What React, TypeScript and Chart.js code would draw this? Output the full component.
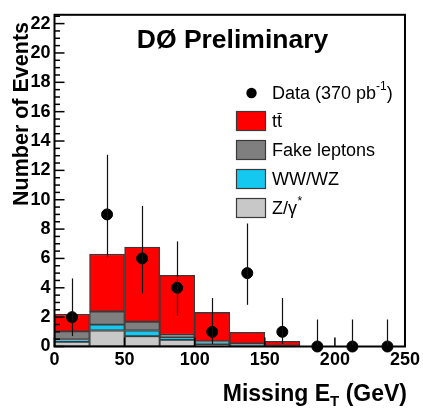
import React, { useEffect, useRef } from "react";
import { Chart, registerables } from "chart.js";

Chart.register(...registerables);

// ---- data ----
const binCenters = [12.5, 37.5, 62.5, 87.5, 112.5, 137.5, 162.5, 187.5, 212.5, 237.5];
const zGamma = [0.32, 1.09, 0.7, 0.45, 0.17, 0.05, 0.02, 0, 0, 0];
const wwwz = [0.16, 0.4, 0.39, 0.2, 0.15, 0.03, 0.01, 0, 0, 0];
const fakeLeptons = [0.55, 0.89, 0.6, 0.15, 0.04, 0.12, 0.03, 0, 0, 0];
const ttbar = [1.17, 3.91, 5.09, 4.05, 1.96, 0.77, 0.29, 0, 0, 0];
const dataCounts = [2, 9, 6, 4, 1, 5, 1, 0, 0, 0];
const errLow = [0.71, 6.06, 3.62, 2.09, 0.17, 2.84, 0.17, 0, 0, 0];
const errHigh = [4.64, 13.06, 9.58, 7.16, 3.3, 8.38, 3.3, 1.84, 1.84, 1.84];
const yTicks = [0, 2, 4, 6, 8, 10, 12, 14, 16, 18, 20, 22];
const xTicks = [0, 50, 100, 150, 200, 250];
const yMax = 22.6;

const FONT = '"Liberation Sans", Arial, Helvetica, sans-serif';
const OUTLINE = "#3a3a3a";
const C_TT = "#ff0000";
const C_FAKE = "#7f7f7f";
const C_WW = "#14c8f0";
const C_Z = "#c8c8c8";

const toXY = (vals: number[]) => vals.map((v, i) => ({ x: binCenters[i], y: v }));

const decor = {
  id: "decor",
  afterDatasetsDraw(chart: any) {
    const { ctx, scales } = chart;
    const x = scales.x;
    const y = scales.y;
    ctx.save();
    ctx.strokeStyle = "#111";
    ctx.lineWidth = 1.2;
    binCenters.forEach((c, i) => {
      const px = Math.round(x.getPixelForValue(c)) + 0.5;
      ctx.beginPath();
      ctx.moveTo(px, y.getPixelForValue(errLow[i]));
      ctx.lineTo(px, y.getPixelForValue(errHigh[i]));
      ctx.stroke();
    });
    ctx.restore();
  },
  afterDraw(chart: any) {
    const { ctx, chartArea: a, scales } = chart;
    const x = scales.x;
    const y = scales.y;
    ctx.save();
    // frame
    ctx.strokeStyle = "#000";
    ctx.lineWidth = 2;
    ctx.strokeRect(a.left, a.top, a.right - a.left, a.bottom - a.top);
    // y ticks (inward)
    ctx.lineWidth = 1.5;
    for (let v = 0; v <= yMax + 1e-6; v += 0.5) {
      const py = y.getPixelForValue(v);
      const major = yTicks.includes(v);
      ctx.beginPath();
      ctx.moveTo(a.left, py);
      ctx.lineTo(a.left + (major ? 10 : 5.5), py);
      ctx.stroke();
    }
    // x ticks (inward)
    xTicks.forEach((v) => {
      const px = x.getPixelForValue(v);
      ctx.beginPath();
      ctx.moveTo(px, a.bottom);
      ctx.lineTo(px, a.bottom - 9);
      ctx.stroke();
    });

    // title
    ctx.fillStyle = "#000";
    ctx.font = `bold 26.5px ${FONT}`;
    ctx.textAlign = "center";
    ctx.textBaseline = "alphabetic";
    ctx.fillText("DØ Preliminary", 232.5, 48);

    // y axis title
    ctx.save();
    ctx.translate(28, 0);
    ctx.rotate(-Math.PI / 2);
    ctx.font = `bold 21.5px ${FONT}`;
    ctx.textAlign = "right";
    ctx.textBaseline = "alphabetic";
    ctx.fillText("Number of Events", -22, 0);
    ctx.restore();

    // x axis title
    {
      const big = `bold 23px ${FONT}`;
      const small = `bold 15px ${FONT}`;
      const p1 = "Missing E";
      const p2 = "T";
      const p3 = " (GeV)";
      ctx.font = big;
      const w1 = ctx.measureText(p1).width;
      const w3 = ctx.measureText(p3).width;
      ctx.font = small;
      const w2 = ctx.measureText(p2).width;
      const right = 407;
      const base = 401;
      let cx = right - (w1 + w2 + w3);
      ctx.textAlign = "left";
      ctx.font = big;
      ctx.fillText(p1, cx, base);
      cx += w1;
      ctx.font = small;
      ctx.fillText(p2, cx, base + 5);
      cx += w2;
      ctx.font = big;
      ctx.fillText(p3, cx, base);
    }

    // legend
    const lf = `18px ${FONT}`;
    const lfs = `12px ${FONT}`;
    const tx = 272;
    ctx.textBaseline = "middle";
    ctx.textAlign = "left";
    // data marker
    ctx.beginPath();
    ctx.arc(251.5, 93, 5.2, 0, Math.PI * 2);
    ctx.fillStyle = "#000";
    ctx.fill();
    ctx.font = lf;
    let cx = tx;
    ctx.fillText("Data (370 pb", cx, 94);
    cx += ctx.measureText("Data (370 pb").width;
    ctx.font = lfs;
    ctx.fillText("-1", cx, 86.5);
    cx += ctx.measureText("-1").width;
    ctx.font = lf;
    ctx.fillText(")", cx, 94);

    const rows = [
      { c: C_TT, label: "tt", top: 111 },
      { c: C_FAKE, label: "Fake leptons", top: 140 },
      { c: C_WW, label: "WW/WZ", top: 169 },
      { c: C_Z, label: "Z/γ", top: 198 },
    ];
    rows.forEach((r, i) => {
      ctx.fillStyle = r.c;
      ctx.fillRect(236, r.top, 30, 20);
      ctx.strokeStyle = OUTLINE;
      ctx.lineWidth = 1.2;
      ctx.strokeRect(236.5, r.top + 0.5, 29, 19);
      ctx.fillStyle = "#000";
      ctx.font = lf;
      const cy = r.top + 11;
      ctx.fillText(r.label, tx, cy);
      if (i === 0) {
        const wt = ctx.measureText("t").width;
        ctx.strokeStyle = "#000";
        ctx.lineWidth = 1;
        ctx.beginPath();
        ctx.moveTo(tx + wt + 0.5, cy - 8.5);
        ctx.lineTo(tx + 2 * wt - 0.5, cy - 8.5);
        ctx.stroke();
      }
      if (i === 3) {
        const w = ctx.measureText(r.label).width;
        ctx.font = lfs;
        ctx.fillText("*", tx + w + 0.5, cy - 7.5);
      }
    });
    ctx.restore();
  },
};

export default function App() {
  const ref = useRef<HTMLCanvasElement | null>(null);
  useEffect(() => {
    if (!ref.current) return;
    const barDs = (label: string, vals: number[], color: string) => ({
      type: "bar" as const,
      label,
      data: toXY(vals),
      backgroundColor: color,
      borderColor: OUTLINE,
      borderWidth: 1.3,
      borderSkipped: false,
      barPercentage: 1,
      categoryPercentage: 1,
      stack: "bg",
      order: 2,
    });
    const chart = new Chart(ref.current, {
      type: "bar",
      data: {
        datasets: [
          barDs("Z/γ*", zGamma, C_Z),
          barDs("WW/WZ", wwwz, C_WW),
          barDs("Fake leptons", fakeLeptons, C_FAKE),
          barDs("tt̄", ttbar, C_TT),
          {
            type: "scatter" as const,
            label: "Data",
            data: toXY(dataCounts),
            backgroundColor: "#000",
            borderColor: "#000",
            pointRadius: 5.5,
            pointHoverRadius: 5.5,
            clip: false as any,
            order: 1,
          } as any,
        ],
      },
      options: {
        responsive: false,
        maintainAspectRatio: false,
        animation: false,
        events: [],
        layout: { padding: { top: 6, right: 17.5, left: 0, bottom: 0 } },
        plugins: { legend: { display: false }, tooltip: { enabled: false }, title: { display: false } },
        scales: {
          x: {
            type: "linear",
            min: 0,
            max: 250,
            offset: false,
            stacked: true,
            grid: { display: false, drawTicks: false },
            border: { display: false },
            afterBuildTicks: (s: any) => {
              s.ticks = xTicks.map((v) => ({ value: v }));
            },
            afterFit: (s: any) => {
              s.height = 65.5;
            },
            ticks: {
              autoSkip: false,
              maxRotation: 0,
              padding: 3,
              color: "#000",
              font: { family: FONT, size: 18, weight: "bold" },
              callback: (v: any) => String(v),
            },
          },
          y: {
            type: "linear",
            min: 0,
            max: yMax,
            stacked: true,
            grid: { display: false, drawTicks: false },
            border: { display: false },
            afterBuildTicks: (s: any) => {
              s.ticks = yTicks.map((v) => ({ value: v }));
            },
            afterFit: (s: any) => {
              s.width = 54.5;
            },
            ticks: {
              padding: 4,
              color: "#000",
              font: { family: FONT, size: 18, weight: "bold" },
              callback: (v: any) => String(v),
            },
          },
        },
      } as any,
      plugins: [decor],
    });
    return () => chart.destroy();
  }, []);
  return (
    <div style={{ position: "absolute", left: 0, top: 0, width: 423, height: 412, background: "#fff" }}>
      <canvas ref={ref} width={423} height={412} style={{ display: "block" }} />
    </div>
  );
}
